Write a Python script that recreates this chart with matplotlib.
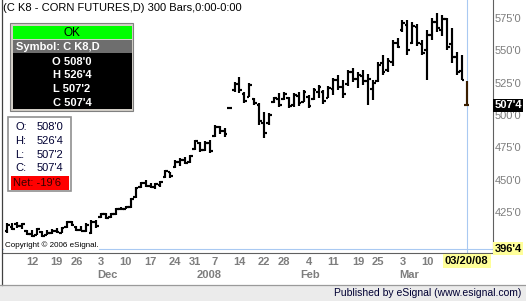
import matplotlib
matplotlib.use("Agg")
import matplotlib.pyplot as plt
from matplotlib.patches import Rectangle

plt.rcParams['font.family'] = ['Liberation Sans', 'DejaVu Sans']

# bar number, 0 = Nov 12 2007, 88 = Mar 20 2008 (trading days)
bar_idx = list(range(-5, 89))

opens = [410, 413, 416, 414, 410, 408, 407.5, 409.5, 407, 409,
         410, 409, 413, 417, 413.5, 411, 410.5, 409, 417, 421,
         423, 421, 423, 427.5, 427.5, 429, 436.5, 444, 447, 445,
         444, 446, 452, 456, 460, 463.5, 465, 463.5, 474, 478,
         473, 478, 484, 490.5, 488, 505.5, 519, 524, 516, 514,
         512, 508, 494, 494, 510, 512, 512, 513, 508, 515,
         510, 514, 512, 518, 518, 513, 520, 527, 522, 524,
         533, 528, 530, 526, 520, 526, 540, 535, 541, 556,
         566, 570, 556, 568, 555, 550, 562, 572, 566, 574,
         555, 545, 534, 508]
highs = [416.4, 416.4, 417.2, 416.4, 411, 411, 412.5, 410.2, 411, 411.8,
         412.5, 413.3, 418, 418, 414.1, 414.1, 416.4, 418.7, 418.7, 424.1,
         424.1, 424.1, 428, 428.8, 429.6, 435.7, 444.3, 448.1, 449.7, 447.4,
         447.4, 448.9, 457.4, 455.9, 465.2, 466.7, 467.5, 469, 480.6, 479.1,
         479.9, 480.6, 492.3, 491.5, 489.9, 505.5, 525.5, 529.4, 517.8, 524.8,
         513.1, 509.3, 502.3, 501.5, 513.9, 517, 517.8, 513.9, 517, 517.8,
         519.3, 515.5, 520.9, 523.2, 519.3, 522.4, 528.6, 531, 527.1, 534.8,
         536.4, 533.3, 534.8, 531.7, 527.1, 541, 546.4, 544.1, 558, 559.6,
         573.5, 573.5, 572, 570.4, 558, 565.8, 575.1, 579, 577.4, 575.1,
         567.3, 548.8, 546.4, 526.5]
lows = [408.7, 411, 412.5, 411.8, 407.1, 405.6, 407.1, 405.6, 407.1, 407.9,
        408.7, 408.7, 412.5, 414.1, 410.2, 410.2, 409.4, 407.9, 412.5, 420.3,
        419.5, 420.3, 422.6, 426.5, 427.2, 428, 435.7, 443.5, 444.3, 443.5,
        442.7, 444.3, 451.2, 451.2, 459, 460.5, 462.1, 462.8, 472.9, 471.4,
        472.1, 470.6, 483, 485.3, 483, 505.5, 517.8, 517, 509.3, 513.9,
        507.7, 492.3, 482.2, 492.3, 509.3, 506.2, 511.6, 505.4, 506.2, 507,
        510, 505.4, 511.6, 513.1, 508.5, 513.1, 515.5, 519.3, 513.1, 522.4,
        525.5, 520.9, 523.2, 507.7, 511.6, 525.5, 531, 533.3, 537.9, 551.8,
        564.2, 546.4, 554.9, 553.4, 546.4, 527.1, 558, 564.2, 561.1, 550.3,
        540.2, 531, 527.1, 507.25]
closes = [415, 412, 414, 415.5, 408, 406.5, 411.5, 406, 409, 410.5,
          409.5, 412.5, 417, 414.5, 411, 410.5, 415, 417.5, 414, 423.5,
          420.5, 423, 427, 427, 429, 435, 443.5, 447, 445, 444,
          446.5, 448, 456.5, 452.5, 464, 465.5, 463, 468, 479.5, 473,
          478.5, 472, 491, 488, 485.5, 505.5, 524, 519, 511, 523,
          509, 495, 486, 500, 513, 508, 516.5, 507, 515.5, 509,
          518, 507, 519.5, 521.5, 511, 521, 527, 522, 516, 533,
          528, 531, 526, 528, 525, 539, 533, 542, 556, 553,
          571, 550, 569, 556, 548, 562, 572, 567, 574, 553,
          545, 533, 527.25, 507.5]

day_ticks = [0, 5, 9, 14, 19, 24, 29, 33, 37, 42, 47, 51, 56, 61, 66, 70, 75, 80]
day_labels = ['12', '19', '26', '3', '10', '17', '24', '31', '7', '14',
              '22', '28', '4', '11', '19', '25', '3', '10']
month_ticks = [14, 34, 55, 75]
month_labels = ['Dec', '2008', 'Feb', 'Mar']

price_ticks = [425, 450, 475, 500, 525, 550, 575]
price_labels = ["425'0", "450'0", "475'0", "500'0", "525'0", "550'0", "575'0"]

W, H = 526, 301
fig = plt.figure(figsize=(W / 100, H / 100), dpi=100)
fig.patch.set_facecolor('white')

ax = fig.add_axes([3 / W, (H - 253) / H, 490 / W, 253 / H])
ax.set_xlim(-5.87, 93.32)
ax.set_ylim(393.2, 589.0)

bar_colors = ['black'] * (len(bar_idx) - 1) + ['#3a1e00']
lefts = [i - 0.55 for i in bar_idx]
rights = [i + 0.55 for i in bar_idx]
ax.vlines(bar_idx, lows, highs, colors=bar_colors, lw=1.55, capstyle='butt')
ax.hlines(opens, lefts, bar_idx, colors=bar_colors, lw=1.55, capstyle='butt')
ax.hlines(closes, bar_idx, rights, colors=bar_colors, lw=1.55, capstyle='butt')

# crosshair
ax.axvline(88, color='#a9c9f2', lw=0.8, zorder=0)
ax.axhline(396.5, color='#a9c9f2', lw=0.8, zorder=0)

for s in ['top', 'left']:
    ax.spines[s].set_visible(False)
for s in ['right', 'bottom']:
    ax.spines[s].set_color('#606060')
    ax.spines[s].set_linewidth(0.8)

ax.set_xticks(day_ticks, day_labels)
ax.tick_params(axis='x', length=0, pad=3, labelsize=8, labelcolor='#7d7d7d')
for t in ax.get_xticklabels():
    t.set_fontweight('bold')
ax.yaxis.tick_right()
ax.set_yticks(price_ticks, price_labels)
ax.tick_params(axis='y', length=0, pad=1, labelsize=8, labelcolor='#7d7d7d')

xt = ax.get_xaxis_transform()
for i, lab in zip(month_ticks, month_labels):
    ax.text(i - 0.75, -0.087, lab, transform=xt, ha='left', va='center',
            fontsize=8, fontweight='bold', color='#7d7d7d', clip_on=False)

ax.text(88, -0.032, "03/20/08", transform=xt, ha='center', va='center',
        fontsize=8, fontweight='bold', color='black', clip_on=False, zorder=6,
        bbox=dict(boxstyle='square,pad=0.18', fc='#ffff99', ec='none'))

yt = ax.get_yaxis_transform()
ax.text(1.003, 507.5, "507'4", transform=yt, ha='left', va='center',
        fontsize=8, fontweight='bold', color='white', clip_on=False, zorder=6,
        bbox=dict(boxstyle='square,pad=0.12', fc='black', ec='none'))
ax.text(1.003, 396.5, "396'4", transform=yt, ha='left', va='center',
        fontsize=8, fontweight='bold', color='black', clip_on=False, zorder=6,
        bbox=dict(boxstyle='square,pad=0.15', fc='#ffff99', ec='none'))

# overlay in pixel coordinates for frames, panels and captions
ov = fig.add_axes([0, 0, 1, 1], zorder=5)
ov.set_xlim(0, W)
ov.set_ylim(H, 0)
ov.axis('off')
ov.patch.set_alpha(0)

ov.plot([2, 2], [0, 285], color='#404040', lw=0.9)
ov.add_patch(Rectangle((0, 285), W, 16, fc='#ebebeb', ec='none'))
ov.plot([0, W], [285, 285], color='#9a9a9a', lw=0.9)
ov.text(521, 293.5, "Published by eSignal (www.esignal.com)", ha='right',
        va='center', fontsize=7.5, color='#000033')

ov.text(3, 8, "(C K8 - CORN FUTURES,D) 300 Bars,0:00-0:00", ha='left',
        va='center', fontsize=8, color='black')
ov.text(5, 245, "Copyright \u00a9 2006 eSignal.", ha='left', va='center',
        fontsize=5.8, color='black',
        bbox=dict(boxstyle='square,pad=0.1', fc='white', ec='none'))

# OK / symbol panel
ov.add_patch(Rectangle((10, 23), 123, 88, fc='#d4d0c8', ec='#808080', lw=0.8))
ov.add_patch(Rectangle((12.5, 26), 119, 13, fc='#00ff00', ec='none'))
ov.add_patch(Rectangle((12.5, 39.5), 119, 13.5, fc='#6e6e6e', ec='none'))
ov.add_patch(Rectangle((12.5, 53), 119, 55.5, fc='black', ec='none'))
ov.text(72, 33, "OK", ha='center', va='center', fontsize=8.5, color='black')
ov.text(16, 46.5, "Symbol: C K8,D", ha='left', va='center', fontsize=8,
        fontweight='bold', color='white')
for yy, s in zip([62, 75.5, 89, 102.5], ["O 508'0", "H 526'4", "L 507'2", "C 507'4"]):
    ov.text(72, yy, s, ha='center', va='center', fontsize=8,
            fontweight='bold', color='white')

# OHLC panel
ov.add_patch(Rectangle((8, 117), 63, 74, fc='white', ec='#909090', lw=1.2))
ov.add_patch(Rectangle((11, 176), 58, 13.5, fc='#ff0000', ec='none'))
for yy, k, v in zip([127, 141, 155, 168], ["O:", "H:", "L:", "C:"],
                    ["508'0", "526'4", "507'2", "507'4"]):
    ov.text(15, yy, k, ha='left', va='center', fontsize=8, color='#000033')
    ov.text(37, yy, v, ha='left', va='center', fontsize=8, color='#000033')
ov.text(13, 183, "Net: -19'6", ha='left', va='center', fontsize=8, color='#330000')

fig.savefig("out.png", dpi=100)
